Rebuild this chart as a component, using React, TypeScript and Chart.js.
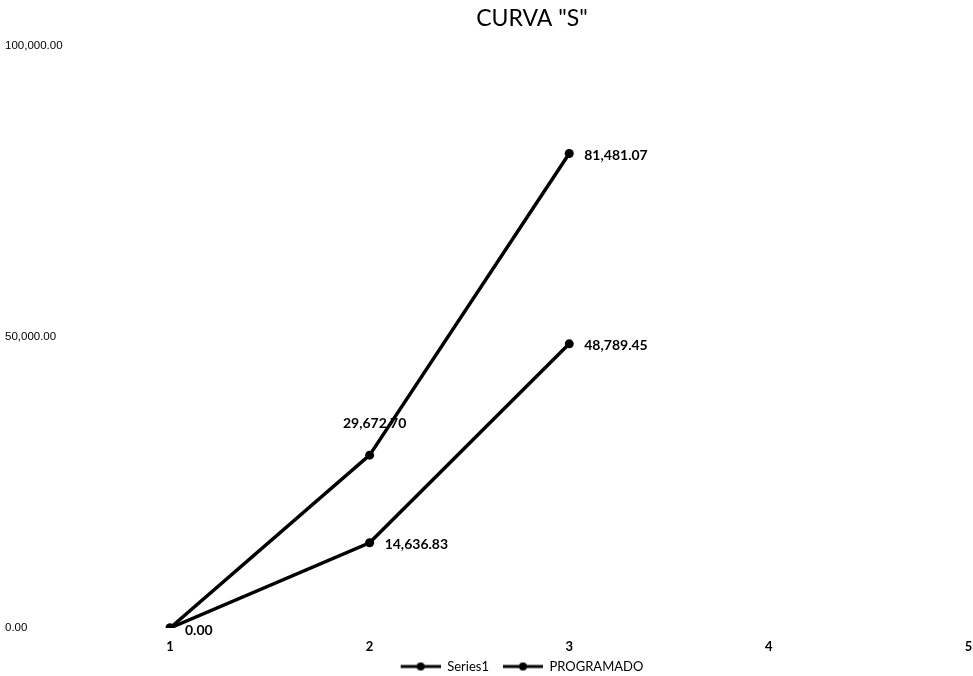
import React, { useEffect, useRef } from "react";
import { Chart, registerables } from "chart.js";

Chart.register(...registerables);

const categories = ["1", "2", "3", "4", "5"];
const series1Values: (number | null)[] = [0, 29672.7, 81481.07, null, null];
const programadoValues: (number | null)[] = [0, 14636.83, 48789.45, null, null];
const yTicks = [0, 50000, 100000];
const titleText = 'CURVA "S"';

const fmt = (v: number) =>
  v.toLocaleString("en-US", { minimumFractionDigits: 2, maximumFractionDigits: 2 });

function makeLegendMarker(): HTMLCanvasElement {
  const c = document.createElement("canvas");
  c.width = 52;
  c.height = 10;
  const ctx = c.getContext("2d")!;
  ctx.strokeStyle = "#000";
  ctx.lineWidth = 3;
  ctx.beginPath();
  ctx.moveTo(12, 5);
  ctx.lineTo(52, 5);
  ctx.stroke();
  ctx.fillStyle = "#000";
  ctx.beginPath();
  ctx.arc(32, 5, 4, 0, Math.PI * 2);
  ctx.fill();
  return c;
}

const dataLabelPlugin = {
  id: "dataLabels",
  afterLayout(chart: any) {
    // shift title and legend horizontally like the original
    const t = chart.titleBlock;
    if (t) {
      const c = 532;
      t.left = c - 300;
      t.right = c + 300;
    }
    const l = chart.legend;
    if (l) {
      const c = 516;
      l.left = c - 300;
      l.right = c + 300;
    }
  },
  afterDatasetsDraw(chart: any) {
    const ctx = chart.ctx;
    ctx.save();
    ctx.font = "bold 14px Lato";
    ctx.fillStyle = "#000";
    chart.data.datasets.forEach((ds: any, di: number) => {
      const meta = chart.getDatasetMeta(di);
      meta.data.forEach((pt: any, i: number) => {
        const v = ds.data[i];
        if (v === null || v === undefined) return;
        if (di === 1 && i === 0) return; // overlapping 0.00
        const text = fmt(v);
        if (di === 0 && i === 1) {
          ctx.textAlign = "center";
          ctx.textBaseline = "middle";
          ctx.fillText(text, pt.x + 5, pt.y - 32);
        } else {
          ctx.textAlign = "left";
          ctx.textBaseline = "middle";
          ctx.fillText(text, pt.x + 15, pt.y + 2);
        }
      });
    });
    ctx.restore();
  },
};

export default function App() {
  const ref = useRef<HTMLCanvasElement | null>(null);
  useEffect(() => {
    if (!ref.current) return;
    const marker = makeLegendMarker();
    const chart = new Chart(ref.current, {
      type: "line",
      data: {
        labels: categories,
        datasets: [
          {
            label: "Series1",
            data: series1Values,
            borderColor: "#000",
            backgroundColor: "#000",
            borderWidth: 3.5,
            pointRadius: 4.5,
            pointBackgroundColor: "#000",
            pointBorderWidth: 0,
            tension: 0,
          },
          {
            label: "PROGRAMADO",
            data: programadoValues,
            borderColor: "#000",
            backgroundColor: "#000",
            borderWidth: 3.5,
            pointRadius: 4.5,
            pointBackgroundColor: "#000",
            pointBorderWidth: 0,
            tension: 0,
          },
        ],
      },
      options: {
        animation: false,
        responsive: false,
        maintainAspectRatio: false,
        layout: { padding: { left: 5, right: 3, top: 0, bottom: -7 } },
        plugins: {
          title: {
            display: true,
            text: titleText,
            color: "#000",
            font: { family: "Lato", size: 23, weight: "normal" },
            padding: { top: 5, bottom: 13 },
          },
          legend: {
            display: true,
            position: "bottom",
            labels: {
              usePointStyle: true,
              pointStyle: marker as any,
              pointStyleWidth: 52,
              color: "#000",
              font: { family: "Lato", size: 13 },
              padding: 2,
              boxHeight: 10,
            },
          },
          tooltip: { enabled: false },
        },
        scales: {
          x: {
            type: "category",
            offset: false,
            grid: { display: false, drawTicks: false },
            border: { display: false },
            afterFit: (scale: any) => {
              scale.paddingLeft = 0;
              scale.paddingRight = 0;
              scale.height = 30;
            },
            ticks: {
              color: "#000",
              font: { family: "Lato", size: 13, weight: "bold" },
              padding: 11,
              maxRotation: 0,
            },
          },
          y: {
            min: 0,
            max: 100000,
            grid: { display: false, drawTicks: false },
            border: { display: false },
            afterBuildTicks: (scale: any) => {
              scale.ticks = yTicks.map((v) => ({ value: v }));
            },
            afterFit: (scale: any) => {
              scale.width = 165;
            },
            ticks: {
              color: "#000",
              crossAlign: "far",
              font: { family: "Liberation Sans", size: 11.5 },
              callback: (v: any) => fmt(Number(v)),
            },
          },
        },
      },
      plugins: [dataLabelPlugin],
    });
    return () => chart.destroy();
  }, []);
  return (
    <div style={{ position: "absolute", left: 0, top: 0, width: 973, height: 676, background: "#fff" }}>
      <canvas ref={ref} width={973} height={676} style={{ width: 973, height: 676 }} />
    </div>
  );
}
